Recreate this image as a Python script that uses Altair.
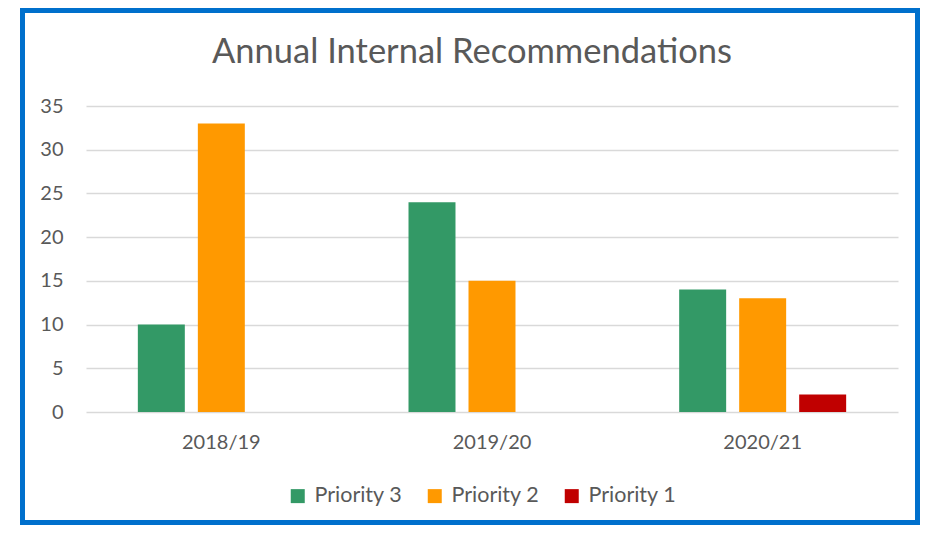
import altair as alt
import pandas as pd

years = ["2018/19", "2019/20", "2020/21"]
priorities = ["Priority 3", "Priority 2", "Priority 1"]
priority3 = [10, 24, 14]
priority2 = [33, 15, 13]
priority1 = [0, 0, 2]
colors = ["#339966", "#FF9900", "#C00000"]
title_text = "Annual Internal Recommendations"

rows = []
for i, y in enumerate(years):
    for p, vals in zip(priorities, [priority3, priority2, priority1]):
        rows.append({"Year": y, "Priority": p, "Value": vals[i]})
df = pd.DataFrame(rows)

FONT = "Lato"
TXT = "#595959"

bars = alt.Chart(df).mark_bar().encode(
    x=alt.X("Year:N", sort=years, title=None,
            scale=alt.Scale(paddingInner=0, paddingOuter=0),
            axis=alt.Axis(labelAngle=0, ticks=False, tickSize=0, domain=False,
                          labelPadding=20, labelFontSize=20, labelColor=TXT,
                          labelFont=FONT)),
    xOffset=alt.XOffset("Priority:N", sort=priorities,
                        scale=alt.Scale(paddingInner=0.217, paddingOuter=0.864)),
    y=alt.Y("Value:Q", title=None,
            scale=alt.Scale(domain=[0, 35], nice=False),
            axis=alt.Axis(values=[0, 5, 10, 15, 20, 25, 30, 35], domain=False,
                          ticks=False, tickSize=0, labelPadding=23,
                          labelFontSize=20, labelColor=TXT, labelFont=FONT,
                          gridColor="#D9D9D9", gridWidth=1.5)),
    color=alt.Color("Priority:N", sort=priorities,
                    scale=alt.Scale(domain=priorities, range=colors),
                    legend=alt.Legend(title=None, orient="none", direction="horizontal",
                                      legendX=201, legendY=379, symbolType="square",
                                      symbolSize=196, symbolStrokeWidth=0,
                                      labelFontSize=21.5, labelColor=TXT, labelFont=FONT,
                                      columnPadding=21, labelOffset=6)),
)

title = alt.Chart(pd.DataFrame({"t": [title_text]})).mark_text(
    font=FONT, fontSize=34.5, color=TXT, align="center", baseline="alphabetic"
).encode(text="t:N", x=alt.value(386), y=alt.value(-43))

border = alt.Chart(pd.DataFrame({"a": [0]})).mark_rect(
    filled=False, stroke="#0070CC", strokeWidth=5
).encode(
    x=alt.value(-63.5), x2=alt.value(831.5),
    y=alt.value(-95.5), y2=alt.value(416.5),
)

chart = alt.layer(bars, title, border).properties(
    width=812, height=306,
    autosize=alt.AutoSizeParams(type="none"),
    padding={"left": 78, "top": 98, "right": 22, "bottom": 113},
).configure_view(stroke=None)

chart.save("out.html", embed_options={"renderer": "svg", "actions": False})
